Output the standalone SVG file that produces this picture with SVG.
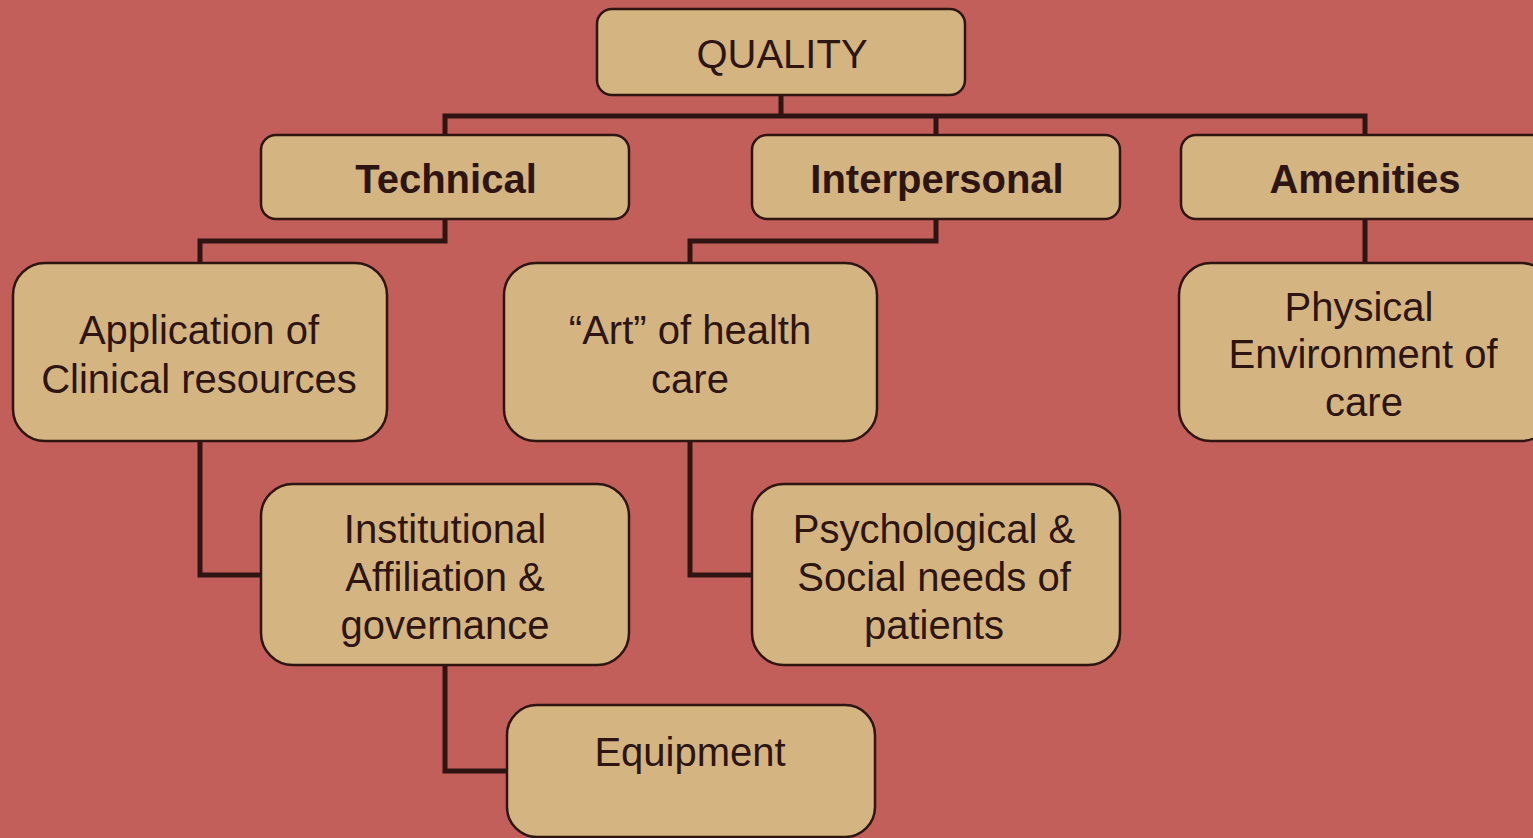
<svg xmlns="http://www.w3.org/2000/svg" width="1533" height="838" viewBox="0 0 1533 838">
<style>
.bg{fill:#C25F5A}
.box{fill:#D4B581;stroke:#2E1512;stroke-width:2.5}
.t{font-family:"Liberation Sans",Arial,sans-serif;font-size:40px;fill:#2E1512;text-anchor:middle}
.b{font-weight:bold}
.c{fill:none;stroke:#2E1512;stroke-width:5;stroke-linejoin:miter}
</style>
<rect class="bg" x="0" y="0" width="1533" height="838"/>
<g id="connectors">
<path class="c" d="M781 95V116M445 135V116H1365V135M936 116V135"/>
<path class="c" d="M445 219V241H200V263"/>
<path class="c" d="M936 219V241H690V263"/>
<path class="c" d="M1365 219V263"/>
<path class="c" d="M200 441V575H261"/>
<path class="c" d="M690 441V575H752"/>
<path class="c" d="M445 665V771H507"/>
</g>
<g id="quality"><rect class="box" x="597" y="9" width="368" height="86" rx="15"/><text class="t" x="782" y="68">QUALITY</text></g>
<g id="technical"><rect class="box" x="261" y="135" width="368" height="84" rx="15"/><text class="t b" x="446" y="193">Technical</text></g>
<g id="interpersonal"><rect class="box" x="752" y="135" width="368" height="84" rx="15"/><text class="t b" x="937" y="193">Interpersonal</text></g>
<g id="amenities"><rect class="box" x="1181" y="135" width="368" height="84" rx="15"/><text class="t b" x="1365" y="193">Amenities</text></g>
<g id="application"><rect class="box" x="13" y="263" width="374" height="178" rx="32"/><text class="t" x="199" y="344">Application of</text><text class="t" x="199" y="393">Clinical resources</text></g>
<g id="art"><rect class="box" x="504" y="263" width="373" height="178" rx="32"/><text class="t" x="690" y="344">“Art” of health</text><text class="t" x="690" y="393">care</text></g>
<g id="physical"><rect class="box" x="1179" y="263" width="374" height="178" rx="32"/><text class="t" x="1359" y="321">Physical</text><text class="t" x="1363" y="368">Environment of</text><text class="t" x="1364" y="416">care</text></g>
<g id="institutional"><rect class="box" x="261" y="484" width="368" height="181" rx="32"/><text class="t" x="445" y="543">Institutional</text><text class="t" x="445" y="591">Affiliation &amp;</text><text class="t" x="445" y="639">governance</text></g>
<g id="psychological"><rect class="box" x="752" y="484" width="368" height="181" rx="32"/><text class="t" x="934" y="543">Psychological &amp;</text><text class="t" x="934" y="591">Social needs of</text><text class="t" x="934" y="639">patients</text></g>
<g id="equipment"><rect class="box" x="507" y="705" width="368" height="132" rx="30"/><text class="t" x="690" y="766">Equipment</text></g>
</svg>
